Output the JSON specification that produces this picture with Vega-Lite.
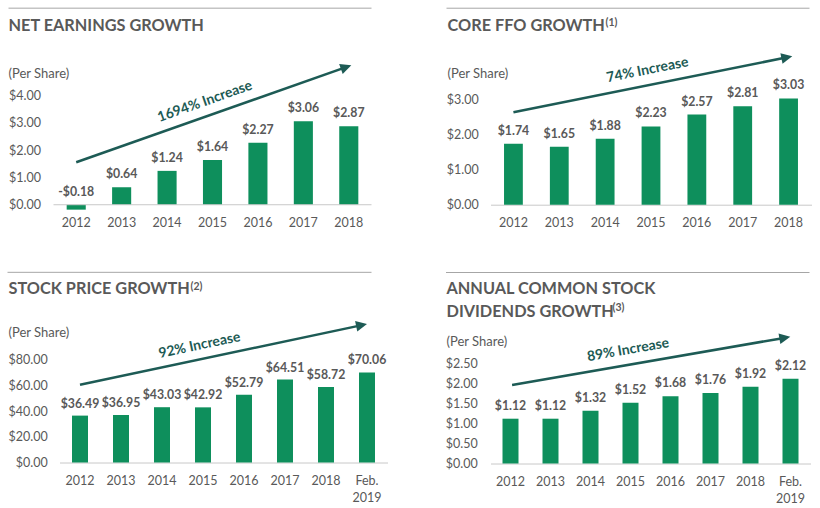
{
  "$schema": "https://vega.github.io/schema/vega-lite/v6.json",
  "padding": {"left": 6.5, "top": 7.5, "right": 0, "bottom": 0},
  "background": "white",
  "columns": 1,
  "align": "none",
  "spacing": 43.2,
  "datasets": {
    "netEarnings": [
      {"year": "2012", "value": -0.18},
      {"year": "2013", "value": 0.64},
      {"year": "2014", "value": 1.24},
      {"year": "2015", "value": 1.64},
      {"year": "2016", "value": 2.27},
      {"year": "2017", "value": 3.06},
      {"year": "2018", "value": 2.87}
    ],
    "coreFFO": [
      {"year": "2012", "value": 1.74},
      {"year": "2013", "value": 1.65},
      {"year": "2014", "value": 1.88},
      {"year": "2015", "value": 2.23},
      {"year": "2016", "value": 2.57},
      {"year": "2017", "value": 2.81},
      {"year": "2018", "value": 3.03}
    ],
    "stockPrice": [
      {"year": "2012", "value": 36.49},
      {"year": "2013", "value": 36.95},
      {"year": "2014", "value": 43.03},
      {"year": "2015", "value": 42.92},
      {"year": "2016", "value": 52.79},
      {"year": "2017", "value": 64.51},
      {"year": "2018", "value": 58.72},
      {"year": "Feb. 2019", "value": 70.06}
    ],
    "dividends": [
      {"year": "2012", "value": 1.12},
      {"year": "2013", "value": 1.12},
      {"year": "2014", "value": 1.32},
      {"year": "2015", "value": 1.52},
      {"year": "2016", "value": 1.68},
      {"year": "2017", "value": 1.76},
      {"year": "2018", "value": 1.92},
      {"year": "Feb. 2019", "value": 2.12}
    ]
  },
  "concat": [
    {
      "columns": 2,
      "align": "none",
      "spacing": 73,
      "concat": [
        {
          "width": 318,
          "height": 114.7,
          "data": {"name": "netEarnings"},
          "layer": [
            {
              "mark": {"type": "bar", "width": {"band": 0.42}, "color": "#0E8F5C"},
              "encoding": {
                "x": {"field": "year", "type": "nominal", "sort": null,
                  "scale": {"paddingInner": 0, "paddingOuter": 0},
                  "axis": {"title": null, "labelAngle": 0, "domain": false, "ticks": false, "labelPadding": 5.8}},
                "y": {"field": "value", "type": "quantitative",
                  "scale": {"domain": [-0.2, 4], "nice": false},
                  "axis": {"title": null, "values": [0, 1, 2, 3, 4], "format": "$.2f", "domain": false, "ticks": false, "grid": false, "labelPadding": 13, "labelOverlap": false}}
              }
            },
            {
              "data": {"values": [{}]},
              "mark": {"type": "rule", "color": "#C8C8C8", "strokeWidth": 1},
              "encoding": {"y": {"datum": 0, "type": "quantitative", "axis": {"title": null, "values": [0, 1, 2, 3, 4], "format": "$.2f", "domain": false, "ticks": false, "grid": false, "labelPadding": 13, "labelOverlap": false}}}
            },
            {
              "transform": [{"calculate": "max(datum.value, 0)", "as": "labelPos"}],
              "mark": {"type": "text", "font": "Lato", "fontWeight": "bold", "fontSize": 12.3, "color": "#595959", "baseline": "alphabetic", "dy": -9},
              "encoding": {
                "x": {"field": "year", "type": "nominal", "sort": null},
                "y": {"field": "labelPos", "type": "quantitative", "axis": {"title": null, "values": [0, 1, 2, 3, 4], "format": "$.2f", "domain": false, "ticks": false, "grid": false, "labelPadding": 13, "labelOverlap": false}},
                "text": {"field": "value", "type": "quantitative", "format": "$.2f"}
              }
            },
            {
              "data": {"values": [{}]},
              "mark": {"type": "rule", "color": "#A6A6A6", "strokeWidth": 1, "xOffset": -45},
              "encoding": {
                "x": {"datum": "2012", "type": "nominal", "bandPosition": 0},
                "x2": {"datum": "2018", "bandPosition": 1},
                "y": {"datum": 7.198, "type": "quantitative", "axis": {"title": null, "values": [0, 1, 2, 3, 4], "format": "$.2f", "domain": false, "ticks": false, "grid": false, "labelPadding": 13, "labelOverlap": false}}
              }
            },
            {
              "data": {"values": [{"t": "NET EARNINGS GROWTH"}]},
              "mark": {"type": "text", "font": "Lato", "fontWeight": "bold", "fontSize": 16.3, "color": "#595959", "align": "left", "baseline": "alphabetic", "dx": -45},
              "encoding": {
                "x": {"datum": "2012", "type": "nominal", "bandPosition": 0},
                "y": {"datum": 6.366, "type": "quantitative", "axis": {"title": null, "values": [0, 1, 2, 3, 4], "format": "$.2f", "domain": false, "ticks": false, "grid": false, "labelPadding": 13, "labelOverlap": false}},
                "text": {"field": "t"}
              }
            },
            {
              "data": {"values": [{"t": "(Per Share)"}]},
              "mark": {"type": "text", "font": "Lato", "fontSize": 13, "color": "#595959", "align": "left", "baseline": "alphabetic", "dx": -45},
              "encoding": {
                "x": {"datum": "2012", "type": "nominal", "bandPosition": 0},
                "y": {"datum": 4.659, "type": "quantitative", "axis": {"title": null, "values": [0, 1, 2, 3, 4], "format": "$.2f", "domain": false, "ticks": false, "grid": false, "labelPadding": 13, "labelOverlap": false}},
                "text": {"field": "t"}
              }
            },
            {
              "data": {"values": [{}]},
              "mark": {"type": "rule", "color": "#1D5B55", "strokeWidth": 2.5},
              "encoding": {
                "x": {"datum": "2012", "type": "nominal", "bandPosition": 0.5},
                "x2": {"datum": "2018", "bandPosition": 0.425},
                "y": {"datum": 1.557, "type": "quantitative", "axis": {"title": null, "values": [0, 1, 2, 3, 4], "format": "$.2f", "domain": false, "ticks": false, "grid": false, "labelPadding": 13, "labelOverlap": false}},
                "y2": {"datum": 5.029}
              }
            },
            {
              "data": {"values": [{}]},
              "mark": {"type": "point", "filled": true, "opacity": 1, "color": "#1D5B55", "shape": "M0,-1L0.85,0.75L-0.85,0.75Z", "size": 159, "angle": 70.54},
              "encoding": {
                "x": {"datum": "2018", "type": "nominal", "bandPosition": 0.425},
                "y": {"datum": 5.029, "type": "quantitative", "axis": {"title": null, "values": [0, 1, 2, 3, 4], "format": "$.2f", "domain": false, "ticks": false, "grid": false, "labelPadding": 13, "labelOverlap": false}}
              }
            },
            {
              "data": {"values": [{"t": "1694% Increase"}]},
              "mark": {"type": "text", "font": "Lato", "fontWeight": "bold", "fontSize": 14, "color": "#1D5B55", "align": "center", "baseline": "middle", "angle": -19.46},
              "encoding": {
                "x": {"datum": "2015", "type": "nominal", "bandPosition": 0.335},
                "y": {"datum": 3.773, "type": "quantitative", "axis": {"title": null, "values": [0, 1, 2, 3, 4], "format": "$.2f", "domain": false, "ticks": false, "grid": false, "labelPadding": 13, "labelOverlap": false}},
                "text": {"field": "t"}
              }
            }
          ]
        },
        {
          "width": 321,
          "height": 109.2,
          "data": {"name": "coreFFO"},
          "layer": [
            {
              "mark": {"type": "bar", "width": {"band": 0.41}, "color": "#0E8F5C"},
              "encoding": {
                "x": {"field": "year", "type": "nominal", "sort": null,
                  "scale": {"paddingInner": 0, "paddingOuter": 0},
                  "axis": {"title": null, "labelAngle": 0, "domain": true, "domainColor": "#C8C8C8", "ticks": false, "labelPadding": 11.3}},
                "y": {"field": "value", "type": "quantitative",
                  "scale": {"domain": [0, 3.114], "nice": false},
                  "axis": {"title": null, "values": [0, 1, 2, 3], "format": "$.2f", "domain": false, "ticks": false, "grid": false, "labelPadding": 12.3, "labelOverlap": false}}
              }
            },
            {
              "mark": {"type": "text", "font": "Lato", "fontWeight": "bold", "fontSize": 12.3, "color": "#595959", "baseline": "alphabetic", "dy": -9},
              "encoding": {
                "x": {"field": "year", "type": "nominal", "sort": null},
                "y": {"field": "value", "type": "quantitative", "axis": {"title": null, "values": [0, 1, 2, 3], "format": "$.2f", "domain": false, "ticks": false, "grid": false, "labelPadding": 12.3, "labelOverlap": false}},
                "text": {"field": "value", "type": "quantitative", "format": "$.2f"}
              }
            },
            {
              "data": {"values": [{}]},
              "mark": {"type": "rule", "color": "#A6A6A6", "strokeWidth": 1, "xOffset": -44, "x2Offset": -2},
              "encoding": {
                "x": {"datum": "2012", "type": "nominal", "bandPosition": 0},
                "x2": {"datum": "2018", "bandPosition": 1},
                "y": {"datum": 5.603, "type": "quantitative", "axis": {"title": null, "values": [0, 1, 2, 3], "format": "$.2f", "domain": false, "ticks": false, "grid": false, "labelPadding": 12.3, "labelOverlap": false}}
              }
            },
            {
              "data": {"values": [{"t": "CORE FFO GROWTH"}]},
              "mark": {"type": "text", "font": "Lato", "fontWeight": "bold", "fontSize": 16.3, "color": "#595959", "align": "left", "baseline": "alphabetic", "dx": -43},
              "encoding": {
                "x": {"datum": "2012", "type": "nominal", "bandPosition": 0},
                "y": {"datum": 4.956, "type": "quantitative", "axis": {"title": null, "values": [0, 1, 2, 3], "format": "$.2f", "domain": false, "ticks": false, "grid": false, "labelPadding": 12.3, "labelOverlap": false}},
                "text": {"field": "t"}
              }
            },
            {
              "data": {"values": [{"t": "(1)"}]},
              "mark": {"type": "text", "font": "Lato", "fontWeight": "bold", "fontSize": 10.5, "color": "#595959", "align": "left", "baseline": "alphabetic", "dx": 115},
              "encoding": {
                "x": {"datum": "2012", "type": "nominal", "bandPosition": 0},
                "y": {"datum": 5.09, "type": "quantitative", "axis": {"title": null, "values": [0, 1, 2, 3], "format": "$.2f", "domain": false, "ticks": false, "grid": false, "labelPadding": 12.3, "labelOverlap": false}},
                "text": {"field": "t"}
              }
            },
            {
              "data": {"values": [{"t": "(Per Share)"}]},
              "mark": {"type": "text", "font": "Lato", "fontSize": 13, "color": "#595959", "align": "left", "baseline": "alphabetic", "dx": -43},
              "encoding": {
                "x": {"datum": "2012", "type": "nominal", "bandPosition": 0},
                "y": {"datum": 3.627, "type": "quantitative", "axis": {"title": null, "values": [0, 1, 2, 3], "format": "$.2f", "domain": false, "ticks": false, "grid": false, "labelPadding": 12.3, "labelOverlap": false}},
                "text": {"field": "t"}
              }
            },
            {
              "data": {"values": [{}]},
              "mark": {"type": "rule", "color": "#1D5B55", "strokeWidth": 2.5},
              "encoding": {
                "x": {"datum": "2012", "type": "nominal", "bandPosition": 0.5},
                "x2": {"datum": "2018", "bandPosition": 0.446},
                "y": {"datum": 2.638, "type": "quantitative", "axis": {"title": null, "values": [0, 1, 2, 3], "format": "$.2f", "domain": false, "ticks": false, "grid": false, "labelPadding": 12.3, "labelOverlap": false}},
                "y2": {"datum": 4.197}
              }
            },
            {
              "data": {"values": [{}]},
              "mark": {"type": "point", "filled": true, "opacity": 1, "color": "#1D5B55", "shape": "M0,-1L0.85,0.75L-0.85,0.75Z", "size": 159, "angle": 78.65},
              "encoding": {
                "x": {"datum": "2018", "type": "nominal", "bandPosition": 0.446},
                "y": {"datum": 4.197, "type": "quantitative", "axis": {"title": null, "values": [0, 1, 2, 3], "format": "$.2f", "domain": false, "ticks": false, "grid": false, "labelPadding": 12.3, "labelOverlap": false}}
              }
            },
            {
              "data": {"values": [{"t": "74% Increase"}]},
              "mark": {"type": "text", "font": "Lato", "fontWeight": "bold", "fontSize": 14, "color": "#1D5B55", "align": "center", "baseline": "middle", "angle": -11.35},
              "encoding": {
                "x": {"datum": "2015", "type": "nominal", "bandPosition": 0.424},
                "y": {"datum": 3.835, "type": "quantitative", "axis": {"title": null, "values": [0, 1, 2, 3], "format": "$.2f", "domain": false, "ticks": false, "grid": false, "labelPadding": 12.3, "labelOverlap": false}},
                "text": {"field": "t"}
              }
            }
          ]
        }
      ]
    },
    {
      "columns": 2,
      "align": "none",
      "spacing": 57,
      "concat": [
        {
          "width": 334,
          "height": 102.8,
          "data": {"name": "stockPrice"},
          "layer": [
            {
              "mark": {"type": "bar", "width": {"band": 0.39}, "color": "#0E8F5C"},
              "encoding": {
                "x": {"field": "year", "type": "nominal", "sort": null,
                  "scale": {"paddingInner": 0, "paddingOuter": 0, "range": [6, 334]},
                  "axis": {"title": null, "labelAngle": 0, "domain": true, "domainColor": "#C8C8C8", "ticks": false, "labelPadding": 12, "labelExpr": "split(datum.label, ' ')", "labelLineHeight": 16.5}},
                "y": {"field": "value", "type": "quantitative",
                  "scale": {"domain": [0, 80], "nice": false},
                  "axis": {"title": null, "values": [0, 20, 40, 60, 80], "format": "$.2f", "domain": false, "ticks": false, "grid": false, "labelPadding": 12.3, "offset": -6, "labelOverlap": false}}
              }
            },
            {
              "mark": {"type": "text", "font": "Lato", "fontWeight": "bold", "fontSize": 12.3, "color": "#595959", "baseline": "alphabetic", "dy": -8},
              "encoding": {
                "x": {"field": "year", "type": "nominal", "sort": null},
                "y": {"field": "value", "type": "quantitative", "axis": {"title": null, "values": [0, 20, 40, 60, 80], "format": "$.2f", "domain": false, "ticks": false, "grid": false, "labelPadding": 12.3, "offset": -6, "labelOverlap": false}},
                "text": {"field": "value", "type": "quantitative", "format": "$.2f"}
              }
            },
            {
              "data": {"values": [{}]},
              "mark": {"type": "rule", "color": "#A6A6A6", "strokeWidth": 1, "xOffset": -52, "x2Offset": -16},
              "encoding": {
                "x": {"datum": "2012", "type": "nominal", "bandPosition": 0},
                "x2": {"datum": "Feb. 2019", "bandPosition": 1},
                "y": {"datum": 148.0, "type": "quantitative", "axis": {"title": null, "values": [0, 20, 40, 60, 80], "format": "$.2f", "domain": false, "ticks": false, "grid": false, "labelPadding": 12.3, "offset": -6, "labelOverlap": false}}
              }
            },
            {
              "data": {"values": [{"t": "STOCK PRICE GROWTH"}]},
              "mark": {"type": "text", "font": "Lato", "fontWeight": "bold", "fontSize": 16.3, "color": "#595959", "align": "left", "baseline": "alphabetic", "dx": -51},
              "encoding": {
                "x": {"datum": "2012", "type": "nominal", "bandPosition": 0},
                "y": {"datum": 131.05, "type": "quantitative", "axis": {"title": null, "values": [0, 20, 40, 60, 80], "format": "$.2f", "domain": false, "ticks": false, "grid": false, "labelPadding": 12.3, "offset": -6, "labelOverlap": false}},
                "text": {"field": "t"}
              }
            },
            {
              "data": {"values": [{"t": "(2)"}]},
              "mark": {"type": "text", "font": "Lato", "fontWeight": "bold", "fontSize": 10.5, "color": "#595959", "align": "left", "baseline": "alphabetic", "dx": 131},
              "encoding": {
                "x": {"datum": "2012", "type": "nominal", "bandPosition": 0},
                "y": {"datum": 134.4, "type": "quantitative", "axis": {"title": null, "values": [0, 20, 40, 60, 80], "format": "$.2f", "domain": false, "ticks": false, "grid": false, "labelPadding": 12.3, "offset": -6, "labelOverlap": false}},
                "text": {"field": "t"}
              }
            },
            {
              "data": {"values": [{"t": "(Per Share)"}]},
              "mark": {"type": "text", "font": "Lato", "fontSize": 13, "color": "#595959", "align": "left", "baseline": "alphabetic", "dx": -51},
              "encoding": {
                "x": {"datum": "2012", "type": "nominal", "bandPosition": 0},
                "y": {"datum": 97.6, "type": "quantitative", "axis": {"title": null, "values": [0, 20, 40, 60, 80], "format": "$.2f", "domain": false, "ticks": false, "grid": false, "labelPadding": 12.3, "offset": -6, "labelOverlap": false}},
                "text": {"field": "t"}
              }
            },
            {
              "data": {"values": [{}]},
              "mark": {"type": "rule", "color": "#1D5B55", "strokeWidth": 2.5},
              "encoding": {
                "x": {"datum": "2012", "type": "nominal", "bandPosition": 0.5},
                "x2": {"datum": "Feb. 2019", "bandPosition": 0.349},
                "y": {"datum": 60.47, "type": "quantitative", "axis": {"title": null, "values": [0, 20, 40, 60, 80], "format": "$.2f", "domain": false, "ticks": false, "grid": false, "labelPadding": 12.3, "offset": -6, "labelOverlap": false}},
                "y2": {"datum": 106.7}
              }
            },
            {
              "data": {"values": [{}]},
              "mark": {"type": "point", "filled": true, "opacity": 1, "color": "#1D5B55", "shape": "M0,-1L0.85,0.75L-0.85,0.75Z", "size": 159, "angle": 78.07},
              "encoding": {
                "x": {"datum": "Feb. 2019", "type": "nominal", "bandPosition": 0.349},
                "y": {"datum": 106.7, "type": "quantitative", "axis": {"title": null, "values": [0, 20, 40, 60, 80], "format": "$.2f", "domain": false, "ticks": false, "grid": false, "labelPadding": 12.3, "offset": -6, "labelOverlap": false}}
              }
            },
            {
              "data": {"values": [{"t": "92% Increase"}]},
              "mark": {"type": "text", "font": "Lato", "fontWeight": "bold", "fontSize": 14, "color": "#1D5B55", "align": "center", "baseline": "middle", "angle": -11.93},
              "encoding": {
                "x": {"datum": "2015", "type": "nominal", "bandPosition": 0.415},
                "y": {"datum": 91.05, "type": "quantitative", "axis": {"title": null, "values": [0, 20, 40, 60, 80], "format": "$.2f", "domain": false, "ticks": false, "grid": false, "labelPadding": 12.3, "offset": -6, "labelOverlap": false}},
                "text": {"field": "t"}
              }
            }
          ]
        },
        {
          "width": 320,
          "height": 103.8,
          "data": {"name": "dividends"},
          "layer": [
            {
              "mark": {"type": "bar", "width": {"band": 0.4}, "color": "#0E8F5C"},
              "encoding": {
                "x": {"field": "year", "type": "nominal", "sort": null,
                  "scale": {"paddingInner": 0, "paddingOuter": 0},
                  "axis": {"title": null, "labelAngle": 0, "domain": true, "domainColor": "#C8C8C8", "ticks": false, "labelPadding": 12, "labelExpr": "split(datum.label, ' ')", "labelLineHeight": 16.5}},
                "y": {"field": "value", "type": "quantitative",
                  "scale": {"domain": [0, 2.595], "nice": false},
                  "axis": {"title": null, "values": [0, 0.5, 1, 1.5, 2, 2.5], "format": "$.2f", "domain": false, "ticks": false, "grid": false, "labelPadding": 13.3, "labelOverlap": false}}
              }
            },
            {
              "mark": {"type": "text", "font": "Lato", "fontWeight": "bold", "fontSize": 12.3, "color": "#595959", "baseline": "alphabetic", "dy": -9},
              "encoding": {
                "x": {"field": "year", "type": "nominal", "sort": null},
                "y": {"field": "value", "type": "quantitative", "axis": {"title": null, "values": [0, 0.5, 1, 1.5, 2, 2.5], "format": "$.2f", "domain": false, "ticks": false, "grid": false, "labelPadding": 13.3, "labelOverlap": false}},
                "text": {"field": "value", "type": "quantitative", "format": "$.2f"}
              }
            },
            {
              "data": {"values": [{}]},
              "mark": {"type": "rule", "color": "#A6A6A6", "strokeWidth": 1, "xOffset": -44.5, "x2Offset": -1},
              "encoding": {
                "x": {"datum": "2012", "type": "nominal", "bandPosition": 0},
                "x2": {"datum": "Feb. 2019", "bandPosition": 1},
                "y": {"datum": 4.775, "type": "quantitative", "axis": {"title": null, "values": [0, 0.5, 1, 1.5, 2, 2.5], "format": "$.2f", "domain": false, "ticks": false, "grid": false, "labelPadding": 13.3, "labelOverlap": false}}
              }
            },
            {
              "data": {"values": [{"t": ["ANNUAL COMMON STOCK", "DIVIDENDS GROWTH"]}]},
              "mark": {"type": "text", "font": "Lato", "fontWeight": "bold", "fontSize": 16.3, "color": "#595959", "align": "left", "baseline": "alphabetic", "dx": -44, "lineHeight": 22.7},
              "encoding": {
                "x": {"datum": "2012", "type": "nominal", "bandPosition": 0},
                "y": {"datum": 4.235, "type": "quantitative", "axis": {"title": null, "values": [0, 0.5, 1, 1.5, 2, 2.5], "format": "$.2f", "domain": false, "ticks": false, "grid": false, "labelPadding": 13.3, "labelOverlap": false}},
                "text": {"field": "t"}
              }
            },
            {
              "data": {"values": [{"t": "(3)"}]},
              "mark": {"type": "text", "font": "Lato", "fontWeight": "bold", "fontSize": 10.5, "color": "#595959", "align": "left", "baseline": "alphabetic", "dx": 122},
              "encoding": {
                "x": {"datum": "2012", "type": "nominal", "bandPosition": 0},
                "y": {"datum": 3.8175, "type": "quantitative", "axis": {"title": null, "values": [0, 0.5, 1, 1.5, 2, 2.5], "format": "$.2f", "domain": false, "ticks": false, "grid": false, "labelPadding": 13.3, "labelOverlap": false}},
                "text": {"field": "t"}
              }
            },
            {
              "data": {"values": [{"t": "(Per Share)"}]},
              "mark": {"type": "text", "font": "Lato", "fontSize": 13, "color": "#595959", "align": "left", "baseline": "alphabetic", "dx": -44},
              "encoding": {
                "x": {"datum": "2012", "type": "nominal", "bandPosition": 0},
                "y": {"datum": 2.94, "type": "quantitative", "axis": {"title": null, "values": [0, 0.5, 1, 1.5, 2, 2.5], "format": "$.2f", "domain": false, "ticks": false, "grid": false, "labelPadding": 13.3, "labelOverlap": false}},
                "text": {"field": "t"}
              }
            },
            {
              "data": {"values": [{}]},
              "mark": {"type": "rule", "color": "#1D5B55", "strokeWidth": 2.5},
              "encoding": {
                "x": {"datum": "2012", "type": "nominal", "bandPosition": 0.54},
                "x2": {"datum": "Feb. 2019", "bandPosition": 0.34},
                "y": {"datum": 1.96, "type": "quantitative", "axis": {"title": null, "values": [0, 0.5, 1, 1.5, 2, 2.5], "format": "$.2f", "domain": false, "ticks": false, "grid": false, "labelPadding": 13.3, "labelOverlap": false}},
                "y2": {"datum": 3.14}
              }
            },
            {
              "data": {"values": [{}]},
              "mark": {"type": "point", "filled": true, "opacity": 1, "color": "#1D5B55", "shape": "M0,-1L0.85,0.75L-0.85,0.75Z", "size": 159, "angle": 80.15},
              "encoding": {
                "x": {"datum": "Feb. 2019", "type": "nominal", "bandPosition": 0.34},
                "y": {"datum": 3.14, "type": "quantitative", "axis": {"title": null, "values": [0, 0.5, 1, 1.5, 2, 2.5], "format": "$.2f", "domain": false, "ticks": false, "grid": false, "labelPadding": 13.3, "labelOverlap": false}}
              }
            },
            {
              "data": {"values": [{"t": "89% Increase"}]},
              "mark": {"type": "text", "font": "Lato", "fontWeight": "bold", "fontSize": 14, "color": "#1D5B55", "align": "center", "baseline": "middle", "angle": -9.85},
              "encoding": {
                "x": {"datum": "2015", "type": "nominal", "bandPosition": 0.44},
                "y": {"datum": 2.835, "type": "quantitative", "axis": {"title": null, "values": [0, 0.5, 1, 1.5, 2, 2.5], "format": "$.2f", "domain": false, "ticks": false, "grid": false, "labelPadding": 13.3, "labelOverlap": false}},
                "text": {"field": "t"}
              }
            }
          ]
        }
      ]
    }
  ],
  "config": {
    "view": {"stroke": null},
    "font": "Lato",
    "axis": {"labelFont": "Lato", "labelFontSize": 12.5, "labelColor": "#595959", "grid": false},
    "locale": {"number": {"decimal": ".", "thousands": ",", "grouping": [3], "currency": ["$", ""], "minus": "-"}}
  }
}
